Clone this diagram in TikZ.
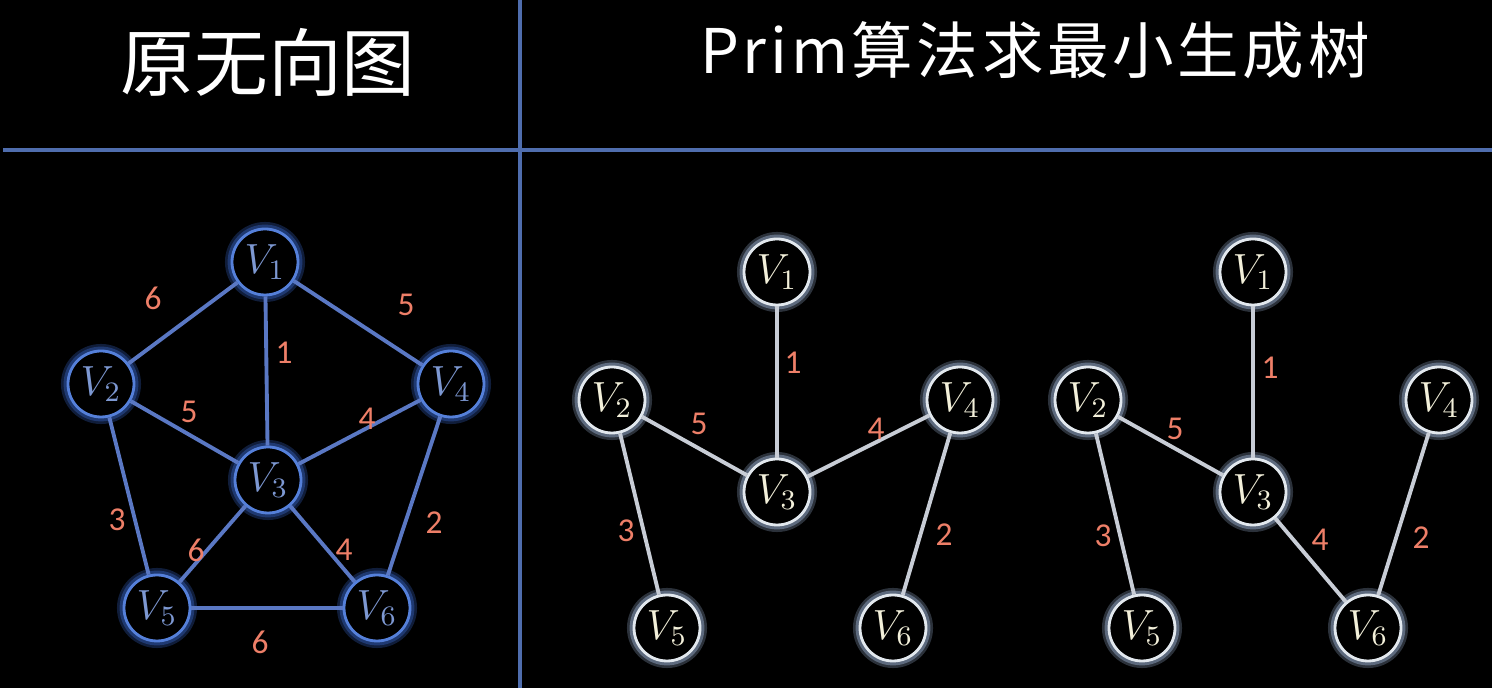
\documentclass[tikz,border=0pt]{standalone}
\usepackage{fontspec}
\newfontfamily\cjk{Noto Sans CJK SC}
\newfontfamily\cjkwide[LetterSpace=6]{Noto Sans CJK SC}
\newfontfamily\numfont{Carlito}
\usetikzlibrary{positioning}

\definecolor{sepline}{HTML}{4F6DAD}
\definecolor{edgeB}{HTML}{5A78C4}
\definecolor{ringB}{HTML}{5580DA}
\definecolor{glowB}{HTML}{2E55A8}
\definecolor{textB}{HTML}{7D98D2}
\definecolor{edgeW}{HTML}{C8CDD6}
\definecolor{ringW}{HTML}{E2E8EE}
\definecolor{glowW}{HTML}{8FA4C2}
\definecolor{textW}{HTML}{F3F0DA}
\definecolor{wgt}{HTML}{EE7F68}

\begin{document}
\begin{tikzpicture}[
		x=1cm, y=1cm,
		bvert/.style={circle, minimum size=6.6mm, inner sep=0pt, draw=ringB, line width=0.8pt,
			fill=black, text=textB, font=\fontsize{12}{14}\selectfont,
			preaction={draw=glowB, line width=4pt, opacity=.35},
			preaction={draw=glowB, line width=2.5pt, opacity=.5}},
		wvert/.style={circle, minimum size=6.6mm, inner sep=0pt, draw=ringW, line width=0.8pt,
			fill=black, text=textW, font=\fontsize{12}{14}\selectfont,
			preaction={draw=glowW, line width=4pt, opacity=.3},
			preaction={draw=glowW, line width=2.5pt, opacity=.5}},
		bedge/.style={draw=edgeB, line width=1.1pt},
		wedge/.style={draw=edgeW, line width=1.1pt},
		wt/.style={text=wgt, font=\numfont\fontsize{9.5}{11}\selectfont}
		]
		
		% Background and frame
		\fill[black] (0,0) rectangle (14.92,-6.88);
		\useasboundingbox (0,0) rectangle (14.92,-6.88);
		\draw[sepline, line width=1.1pt] (0.03,-1.50) -- (14.92,-1.50);
		\draw[sepline, line width=1.1pt] (5.20,0) -- (5.20,-6.88);
		
		% Titles
		\node[text=white, font=\cjk\fontsize{21}{24}\selectfont] (t1) at (2.68,-0.62) {原无向图};
		\node[text=white, font=\cjkwide\fontsize{17.5}{20}\selectfont] (t2) at (10.35,-0.50) {Prim算法求最小生成树};
		
		% Original graph
		\node[bvert] (L1) at (2.65,-2.62) {$V_1$};
		\node[bvert] (L2) at (1.01,-3.84) {$V_2$};
		\node[bvert] (L3) at (2.68,-4.80) {$V_3$};
		\node[bvert] (L4) at (4.51,-3.84) {$V_4$};
		\node[bvert] (L5) at (1.57,-6.08) {$V_5$};
		\node[bvert] (L6) at (3.77,-6.08) {$V_6$};
		
		\draw[bedge] (L1) -- (L2);
		\draw[bedge] (L1) -- (L4);
		\draw[bedge] (L1) -- (L3);
		\draw[bedge] (L2) -- (L3);
		\draw[bedge] (L3) -- (L4);
		\draw[bedge] (L2) -- (L5);
		\draw[bedge] (L4) -- (L6);
		\draw[bedge] (L3) -- (L5);
		\draw[bedge] (L3) -- (L6);
		\draw[bedge] (L5) -- (L6);
		
		\node[wt] at (1.53,-2.98) {6};
		\node[wt] at (4.06,-3.05) {5};
		\node[wt] at (2.84,-3.53) {1};
		\node[wt] at (1.89,-4.12) {5};
		\node[wt] at (3.67,-4.19) {4};
		\node[wt] at (1.17,-5.20) {3};
		\node[wt] at (4.34,-5.23) {2};
		\node[wt] at (1.96,-5.50) {6};
		\node[wt] at (3.44,-5.50) {4};
		\node[wt] at (2.60,-6.42) {6};
		
		% Prim, first step
		\node[wvert] (M1) at (7.77,-2.72) {$V_1$};
		\node[wvert] (M2) at (6.12,-4.00) {$V_2$};
		\node[wvert] (M3) at (7.77,-4.92) {$V_3$};
		\node[wvert] (M4) at (9.60,-4.00) {$V_4$};
		\node[wvert] (M5) at (6.67,-6.28) {$V_5$};
		\node[wvert] (M6) at (8.93,-6.28) {$V_6$};
		
		\draw[wedge] (M1) -- (M3);
		\draw[wedge] (M2) -- (M3);
		\draw[wedge] (M3) -- (M4);
		\draw[wedge] (M2) -- (M5);
		\draw[wedge] (M4) -- (M6);
		
		\node[wt] at (7.93,-3.63) {1};
		\node[wt] at (6.99,-4.24) {5};
		\node[wt] at (8.76,-4.29) {4};
		\node[wt] at (6.26,-5.31) {3};
		\node[wt] at (9.44,-5.35) {2};
		
		% Prim, second tree
		\node[wvert] (R1) at (12.53,-2.72) {$V_1$};
		\node[wvert] (R2) at (10.88,-4.00) {$V_2$};
		\node[wvert] (R3) at (12.53,-4.92) {$V_3$};
		\node[wvert] (R4) at (14.39,-4.00) {$V_4$};
		\node[wvert] (R5) at (11.42,-6.28) {$V_5$};
		\node[wvert] (R6) at (13.68,-6.28) {$V_6$};
		
		\draw[wedge] (R1) -- (R3);
		\draw[wedge] (R2) -- (R3);
		\draw[wedge] (R2) -- (R5);
		\draw[wedge] (R3) -- (R6);
		\draw[wedge] (R4) -- (R6);
		
		\node[wt] at (12.70,-3.68) {1};
		\node[wt] at (11.75,-4.29) {5};
		\node[wt] at (11.03,-5.36) {3};
		\node[wt] at (13.20,-5.40) {4};
		\node[wt] at (14.21,-5.38) {2};
		
	\end{tikzpicture}
\end{document}
